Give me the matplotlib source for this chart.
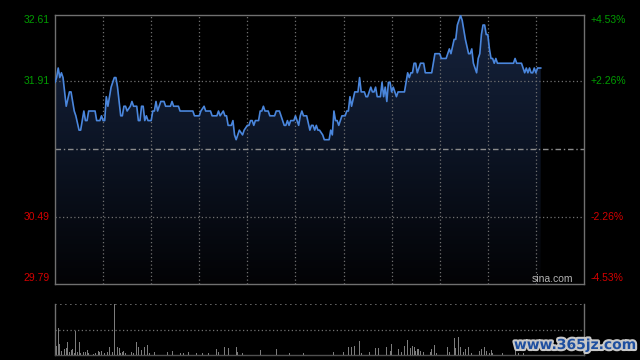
import numpy as np
import matplotlib.pyplot as plt
from matplotlib.colors import LinearSegmentedColormap
from matplotlib.patches import Polygon
import matplotlib.patheffects as pe

# intraday price, breakpoints (minute from open, price)
minutes = [0, 1, 2, 3, 4, 5, 7, 9, 10, 11, 12, 13, 15, 16, 18, 19, 20, 21, 25, 26,
           28, 29, 30, 31, 32, 33, 35, 37, 38, 39, 41, 42, 43, 44, 45, 47, 48, 49, 51, 52,
           53, 54, 55, 56, 57, 58, 60, 61, 62, 63, 64, 66, 68, 69, 72, 73, 74, 77, 78, 86,
           87, 90, 91, 93, 94, 97, 98, 101, 102, 103, 105, 106, 107, 108, 110, 111, 112, 113, 115, 117,
           118, 120, 121, 122, 123, 124, 125, 127, 128, 129, 130, 131, 133, 134, 137, 138, 140, 142, 143, 144,
           145, 146, 147, 149, 150, 151, 152, 153, 154, 155, 157, 159, 160, 161, 162, 163, 164, 165, 167, 168,
           171, 172, 173, 174, 175, 176, 177, 178, 179, 181, 182, 183, 184, 185, 187, 189, 190, 191, 193, 194,
           195, 197, 198, 199, 200, 201, 203, 204, 205, 206, 207, 208, 209, 210, 211, 212, 213, 214, 218, 219,
           220, 221, 222, 223, 224, 225, 226, 228, 230, 231, 235, 237, 240, 241, 244, 246, 247, 249, 250, 251,
           253, 254, 255, 256, 258, 259, 260, 261, 262, 263, 264, 265, 266, 267, 268, 269, 270, 271, 272, 273,
           274, 275, 276, 286, 287, 288, 291, 292, 293, 294, 295, 296, 297, 298, 299, 300, 301, 303]
prices = [31.90, 31.95, 32.05, 31.95, 32.00, 31.95, 31.65, 31.80, 31.80, 31.70, 31.60, 31.55, 31.40, 31.40, 31.60, 31.50, 31.50, 31.60, 31.60, 31.50,
          31.50, 31.55, 31.50, 31.50, 31.75, 31.65, 31.85, 31.95, 31.95, 31.85, 31.55, 31.55, 31.65, 31.65, 31.60, 31.65, 31.70, 31.65, 31.65, 31.50,
          31.50, 31.65, 31.65, 31.50, 31.55, 31.50, 31.50, 31.60, 31.60, 31.70, 31.60, 31.70, 31.70, 31.65, 31.65, 31.70, 31.65, 31.65, 31.60, 31.60,
          31.55, 31.55, 31.60, 31.65, 31.60, 31.60, 31.55, 31.55, 31.60, 31.55, 31.60, 31.55, 31.55, 31.45, 31.45, 31.50, 31.35, 31.30, 31.40, 31.35,
          31.40, 31.45, 31.45, 31.50, 31.50, 31.45, 31.50, 31.50, 31.60, 31.60, 31.65, 31.60, 31.60, 31.55, 31.55, 31.60, 31.60, 31.50, 31.45, 31.45,
          31.50, 31.45, 31.50, 31.50, 31.55, 31.50, 31.45, 31.55, 31.60, 31.55, 31.55, 31.40, 31.45, 31.45, 31.40, 31.45, 31.40, 31.40, 31.35, 31.30,
          31.30, 31.40, 31.35, 31.60, 31.50, 31.50, 31.45, 31.50, 31.55, 31.55, 31.60, 31.60, 31.75, 31.65, 31.80, 31.80, 31.95, 31.80, 31.80, 31.75,
          31.75, 31.85, 31.80, 31.80, 31.85, 31.75, 31.75, 31.90, 31.75, 31.85, 31.70, 31.90, 31.90, 31.80, 31.85, 31.80, 31.75, 31.80, 31.80, 31.90,
          32.00, 31.95, 32.00, 32.00, 32.10, 32.10, 32.00, 32.10, 32.10, 32.00, 32.00, 32.20, 32.20, 32.15, 32.15, 32.25, 32.20, 32.35, 32.35, 32.50,
          32.60, 32.55, 32.45, 32.35, 32.20, 32.20, 32.25, 32.10, 32.05, 32.00, 32.15, 32.20, 32.40, 32.50, 32.50, 32.40, 32.40, 32.25, 32.15, 32.15,
          32.10, 32.15, 32.10, 32.10, 32.15, 32.10, 32.10, 32.05, 32.00, 32.05, 32.00, 32.05, 32.00, 32.00, 32.05, 32.00, 32.05, 32.05]

# volume bars (minute, volume in thousand shares)
vol_minutes = [0, 1, 2, 3, 4, 5, 6, 7, 8, 9, 10, 11, 12, 13, 14, 15, 16, 18, 19, 20,
               21, 24, 25, 27, 28, 29, 31, 33, 34, 36, 37, 39, 40, 41, 42, 43, 44, 48, 49, 51,
               52, 54, 56, 58, 59, 62, 63, 70, 73, 78, 80, 83, 88, 92, 96, 101, 102, 106, 108, 113,
               114, 117, 128, 131, 138, 146, 155, 174, 180, 183, 185, 187, 190, 191, 196, 200, 202, 204, 207, 209,
               210, 214, 216, 218, 220, 222, 223, 224, 225, 226, 227, 228, 230, 234, 235, 237, 238, 245, 246, 249,
               250, 252, 253, 255, 256, 258, 260, 262, 265, 266, 267, 268, 269, 271, 272, 273, 279, 287, 289, 292]
volumes = [16.7, 9.0, 26.7, 11.0, 4.0, 4.0, 5.7, 6.7, 13.0, 3.3, 5.0, 5.7, 1.7, 24.3, 3.3, 13.0, 1.7, 2.7, 3.3, 5.0,
           1.7, 1.0, 1.7, 4.0, 3.3, 4.0, 1.7, 3.3, 8.3, 3.3, 50.7, 8.3, 6.7, 1.7, 2.7, 4.0, 1.7, 3.3, 1.7, 13.3,
           8.3, 5.0, 8.3, 10.0, 1.7, 2.7, 1.7, 3.3, 4.0, 1.7, 1.7, 3.3, 1.7, 1.7, 1.7, 5.7, 3.3, 7.7, 6.7, 7.7,
           3.3, 1.7, 5.0, 4.0, 5.7, 1.7, 1.7, 3.3, 3.3, 7.7, 7.7, 9.0, 14.3, 1.7, 3.3, 6.7, 6.7, 3.3, 7.7, 4.0,
           11.0, 5.7, 3.3, 9.0, 15.0, 6.7, 9.0, 7.7, 4.0, 5.7, 5.7, 4.0, 3.3, 3.3, 5.7, 10.0, 2.3, 7.7, 3.3, 16.7,
           6.7, 17.7, 7.7, 3.3, 5.7, 7.7, 2.3, 2.3, 4.0, 5.7, 11.0, 7.7, 4.0, 2.3, 5.0, 2.3, 1.7, 6.7, 2.3, 2.3]

prev_close = 31.20
y_low, y_high = 29.79, 32.61
left_labels = ['32.61', '31.91', '30.49', '29.79']
right_labels = ['+4.53%', '+2.26%', '-2.26%', '-4.53%']
label_levels = [32.61, 31.91, 30.49, 29.79]
total_minutes = 330

W, H = 640, 360
fig = plt.figure(figsize=(6.4, 3.6), dpi=100, facecolor='black')
ax = fig.add_axes([55 / W, 1 - 284 / H, 529 / W, 269.5 / H])
axv = fig.add_axes([55 / W, 1 - 355 / H, 529 / W, 51 / H])

grid_c = '#707070'
for a in (ax, axv):
    a.set_facecolor('black')
    a.set_xlim(0, total_minutes)
    a.set_xticks([])
    a.set_yticks([])
    for s in a.spines.values():
        s.set_color(grid_c)
        s.set_linewidth(1)

# price panel
ax.set_ylim(y_low, y_high)
x = np.array(minutes)
y = np.array(prices)

grad = np.linspace(1, 0, 256).reshape(-1, 1)
cmap = LinearSegmentedColormap.from_list('g', ['#030305', '#0c1424', '#16233d'])
im = ax.imshow(grad, extent=[0, total_minutes, y_low, y_high], aspect='auto',
               cmap=cmap, origin='upper', zorder=1)
verts = np.vstack([np.column_stack([x, y]), [[x[-1], y_low], [x[0], y_low]]])
poly = Polygon(verts, closed=True, transform=ax.transData, facecolor='none', edgecolor='none')
ax.add_patch(poly)
im.set_clip_path(poly)

for m in range(30, total_minutes, 30):
    ax.axvline(m, color=grid_c, lw=0.9, ls=(0, (1, 2)), zorder=2)
    axv.axvline(m, color='black', lw=0, zorder=0)
for lv in (31.91, 30.49):
    ax.axhline(lv, color=grid_c, lw=0.9, ls=(0, (1, 2)), zorder=2)
ax.axhline(prev_close, color='#8c8c8c', lw=1, ls=(0, (4, 2, 1, 2)), zorder=2)

ax.plot(x, y, color='#4a86dc', lw=1.2, zorder=3)

fs = 7.5
green, red = '#009c00', '#d40000'
offsets = [-5.5, 0, 0, 6]
for lab_l, lab_r, lv, off in zip(left_labels, right_labels, label_levels, offsets):
    col = green if lv > prev_close else red
    ax.annotate(lab_l, xy=(0, lv), xycoords=('axes fraction', 'data'),
                xytext=(-4, off * 0.72), textcoords='offset points',
                ha='right', va='center', color=col, fontsize=fs, family='Liberation Sans')
    ax.annotate(lab_r, xy=(1, lv), xycoords=('axes fraction', 'data'),
                xytext=(4.5, off * 0.72), textcoords='offset points',
                ha='left', va='center', color=col, fontsize=fs, family='Liberation Sans')

ax.text(573 / W, 1 - 279 / H, 'sina.com', transform=fig.transFigure, ha='right', va='center',
        color='#b4b4b4', fontsize=fs, family='Liberation Sans')

# volume panel
axv.set_ylim(0, max(volumes))
axv.bar(vol_minutes, volumes, width=0.6, color='#7c7c7c', zorder=3)
axv.axhline(max(volumes) / 2, color=grid_c, lw=0.9, ls=(0, (1, 2)), zorder=2)
axv.axhline(max(volumes), color=grid_c, lw=1.2, ls=(0, (1, 2)), zorder=2)
axv.spines['top'].set_visible(False)
axv.spines['bottom'].set_color('#505050')

fig.text(575 / W, 1 - 345 / H, 'www.365jz.com', ha='center', va='center', color='#1e4fa0',
         fontsize=10, fontweight='bold', family='DejaVu Sans',
         path_effects=[pe.withStroke(linewidth=3, foreground='#c8c8c8')])

fig.savefig('out.png', dpi=100, facecolor='black')
